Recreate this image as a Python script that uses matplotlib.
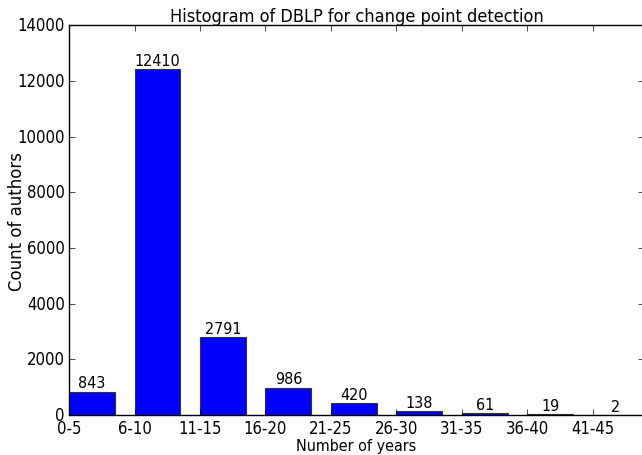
import matplotlib
matplotlib.use('Agg')
import matplotlib.pyplot as plt
import numpy as np

plt.style.use('classic')

categories = ['0-5', '6-10', '11-15', '16-20', '21-25', '26-30', '31-35', '36-40', '41-45']
counts = [843, 12410, 2791, 986, 420, 138, 61, 19, 2]

cond = dict(family=['DejaVu Sans Condensed', 'DejaVu Sans'], stretch='condensed')

fig = plt.figure(figsize=(6.42, 4.56), dpi=100)
# right spine sits just past the image edge, as in the cropped original
ax = fig.add_axes([0.1075, 0.0877, 0.8956, 0.855])

x = np.arange(len(categories))
bars = ax.bar(x, counts, width=0.7, align='edge', color='#0000ff', edgecolor='#333333', linewidth=0.8)

for xi, v in zip(x, counts):
    ax.text(xi + 0.35, v + 40, str(v), ha='center', va='bottom', fontsize=11.5, **cond)

ax.set_xlim(0, 8.78)
ax.set_ylim(0, 14000)
ax.set_xticks(x)
ax.set_xticklabels(categories, fontsize=12, **cond)
ax.set_yticks(np.arange(0, 14001, 2000))
ax.set_yticklabels([str(t) for t in range(0, 14001, 2000)], fontsize=12, **cond)
ax.tick_params(axis='x', pad=3)
ax.tick_params(axis='y', pad=3)

ax.set_title('Histogram of DBLP for change point detection', fontsize=13, pad=3, **cond)
ax.set_xlabel('Number of years', fontsize=11.5, **cond)
ax.xaxis.set_label_coords(0.5, -0.059)
ax.set_ylabel('Count of authors', fontsize=12)
ax.yaxis.set_label_coords(-0.074, 0.5)

fig.savefig('out.png', dpi=100)
